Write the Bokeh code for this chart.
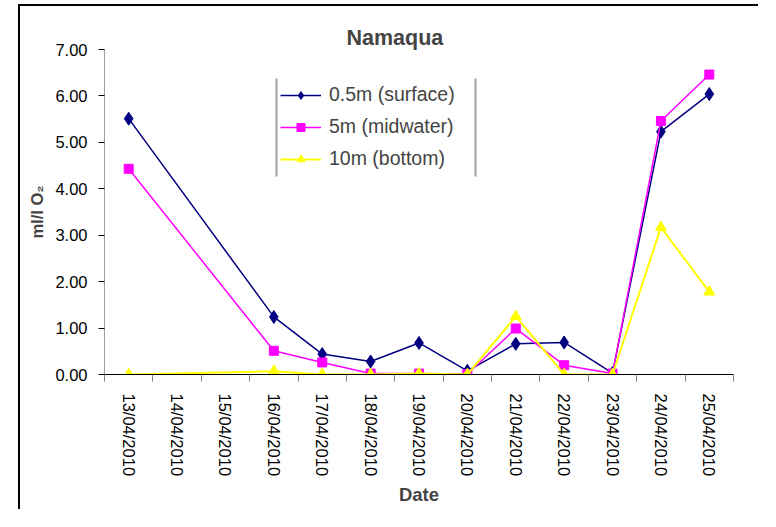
import math
from bokeh.plotting import figure
from bokeh.models import (FixedTicker, Legend, LegendItem, BoxAnnotation,
                          PrintfTickFormatter, Range1d)
from bokeh.embed import file_html
from bokeh.resources import INLINE

# ---------------- data ----------------
dates = ["13/04/2010", "14/04/2010", "15/04/2010", "16/04/2010", "17/04/2010",
         "18/04/2010", "19/04/2010", "20/04/2010", "21/04/2010", "22/04/2010",
         "23/04/2010", "24/04/2010", "25/04/2010"]
surface = [5.51, None, None, 1.24, 0.44, 0.28, 0.68, 0.08, 0.66, 0.69, 0.03, 5.23, 6.04]
midwater = [4.43, None, None, 0.51, 0.26, 0.02, 0.02, 0.01, 0.99, 0.20, 0.02, 5.46, 6.46]
bottom = [0.00, None, None, 0.07, 0.00, 0.00, 0.02, 0.00, 1.25, 0.00, 0.00, 3.17, 1.78]
series_names = ["0.5m (surface)", "5m (midwater)", "10m (bottom)"]
y_ticks = [0, 1, 2, 3, 4, 5, 6, 7]

# ---------------- styles ----------------
FONT = "Liberation Sans"
colors = ["#000080", "#FF00FF", "#FFFF00"]
markers = ["diamond", "square", "triangle"]
marker_sizes = [13, 9, 11]
line_widths = [1.5, 1.5, 2]

p = figure(width=740, height=505, output_backend="svg", toolbar_location=None,
           x_range=Range1d(-0.5, len(dates) - 0.5), y_range=Range1d(y_ticks[0], y_ticks[-1]),
           min_border_left=84, min_border_right=27, min_border_top=43, min_border_bottom=137,
           styles={"border-left": "2px solid black", "border-top": "2px solid black",
                   "margin-left": "18px", "position": "relative", "top": "4px"})
p.outline_line_color = None
p.xgrid.visible = False
p.ygrid.visible = False
p.background_fill_color = "white"
p.border_fill_color = "white"

# title
p.title.text = "Namaqua"
p.title.text_font = FONT
p.title.text_font_size = "21.5px"
p.title.text_font_style = "bold"
p.title.align = "left"
p.title.offset = 242
p.title.standoff = 0

# x axis
xax = p.xaxis[0]
xax.ticker = FixedTicker(ticks=list(range(len(dates))),
                         minor_ticks=[i - 0.5 for i in range(len(dates) + 1)])
xax.major_label_overrides = {i: d for i, d in enumerate(dates)}
xax.major_label_orientation = "vertical"
xax.major_tick_out = 0
xax.major_tick_in = 0
xax.minor_tick_out = 7
xax.minor_tick_in = 0
xax.minor_tick_line_color = "#808080"
xax.axis_line_color = "black"
xax.major_label_standoff = 12
xax.major_label_text_font = FONT
xax.major_label_text_font_size = "16.5px"
xax.major_label_text_color = "black"
xax.axis_label = "Date"
xax.axis_label_text_font = FONT
xax.axis_label_text_font_size = "18.5px"
xax.axis_label_text_font_style = "bold"
xax.axis_label_standoff = 5

# y axis
yax = p.yaxis[0]
yax.ticker = FixedTicker(ticks=y_ticks)
yax.formatter = PrintfTickFormatter(format="%.2f")
yax.axis_line_color = "#A0A0A0"
yax.major_tick_out = 6
yax.major_tick_in = 0
yax.major_tick_line_color = "black"
yax.minor_tick_line_color = None
yax.major_label_standoff = 11
yax.major_label_text_font = FONT
yax.major_label_text_font_size = "16.5px"
yax.major_label_text_color = "black"
yax.axis_label = "ml/l O\u2082"
yax.axis_label_text_font = FONT
yax.axis_label_text_font_size = "16.5px"
yax.axis_label_text_font_style = "bold"
yax.axis_label_standoff = 6

# series
items = []
for name, vals, c, m, s, lw in zip(series_names, [surface, midwater, bottom], colors,
                                   markers, marker_sizes, line_widths):
    xs = [i for i, v in enumerate(vals) if v is not None]
    ys = [v for v in vals if v is not None]
    rl = p.line(xs, ys, line_color=c, line_width=lw)
    rs = p.scatter(xs, ys, marker=m, size=s, fill_color=c, line_color=c)
    items.append(LegendItem(label=name, renderers=[rl, rs]))

legend = Legend(items=items, location=(171, 198), orientation="vertical",
                label_text_font=FONT, label_text_font_size="19.5px",
                glyph_width=41, glyph_height=20, label_height=25, spacing=7,
                padding=5, label_standoff=8, border_line_alpha=0,
                background_fill_alpha=0)
p.add_layout(legend)

# legend side rules (screen units, frame-relative)
def rule(l, r, t, b, color):
    return BoxAnnotation(left=l, right=r, top=t, bottom=b,
                         left_units="screen", right_units="screen",
                         top_units="screen", bottom_units="screen",
                         fill_color=color, fill_alpha=1, line_alpha=0)

p.add_layout(rule(171, 173, 296, 198, "#A0A0A0"))
p.add_layout(rule(370, 372, 296, 198, "#A0A0A0"))

open("out.html", "w").write(file_html(p, INLINE))
